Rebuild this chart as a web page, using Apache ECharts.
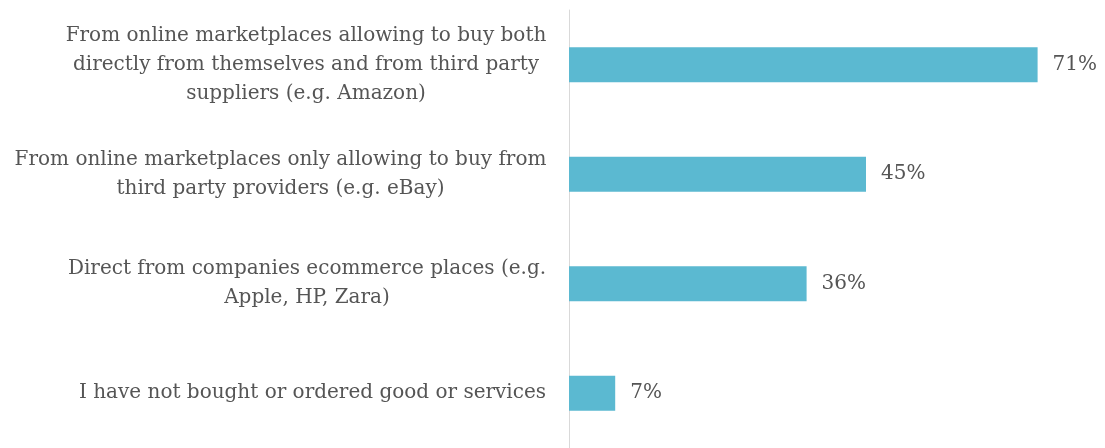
<!DOCTYPE html>
<html>
<head>
<meta charset="utf-8">
<script src="https://cdn.jsdelivr.net/npm/echarts@6/dist/echarts.min.js"></script>
<style>
  html, body { margin: 0; padding: 0; background: #ffffff; }
  #chart { width: 1105px; height: 448px; }
</style>
</head>
<body>
<div id="chart"></div>
<script>
// Where respondents bought goods or services online
const categories = [
  'From online marketplaces allowing to buy both\ndirectly from themselves and from third party\nsuppliers (e.g. Amazon)',
  'From online marketplaces only allowing to buy from\nthird party providers (e.g. eBay)',
  'Direct from companies ecommerce places (e.g.\nApple, HP, Zara)',
  'I have not bought or ordered good or services'
];
const shares = [71, 45, 36, 7];

const FONT = '"DejaVu Serif", "Liberation Serif", serif';
const LABEL_SIZE = 20;
const TEXT_COLOR = '#555555';

// Each category label is a block of centred lines, right-aligned against the axis.
const ctx = document.createElement('canvas').getContext('2d');
ctx.font = LABEL_SIZE + 'px ' + FONT;
const rich = {};
categories.forEach((c, i) => {
  const w = Math.max(...c.split('\n').map(l => ctx.measureText(l).width));
  rich['c' + i] = {
    width: Math.ceil(w) + 1,
    align: 'center',
    fontFamily: FONT,
    fontSize: LABEL_SIZE,
    lineHeight: 29,
    color: TEXT_COLOR
  };
});

const chart = echarts.init(document.getElementById('chart'), null, { renderer: 'canvas' });
chart.setOption({
  animation: false,
  grid: { left: 569, right: 8, top: 10, height: 440, containLabel: false },
  xAxis: {
    type: 'value',
    min: 0,
    max: 80,
    show: false
  },
  yAxis: {
    type: 'category',
    inverse: true,
    data: categories,
    axisTick: { show: false },
    axisLine: { show: true, lineStyle: { color: '#d9d9d9', width: 1 } },
    axisLabel: {
      margin: 22,
      formatter: (value, idx) => value.split('\n').map(l => '{c' + idx + '|' + l + '}').join('\n'),
      rich: rich
    }
  },
  series: [{
    type: 'bar',
    data: shares,
    barWidth: 35,
    itemStyle: { color: '#5bb9d1' },
    label: {
      show: true,
      position: 'right',
      distance: 15,
      formatter: '{c}%',
      fontFamily: FONT,
      fontSize: 20,
      color: TEXT_COLOR
    }
  }]
});
</script>
</body>
</html>
